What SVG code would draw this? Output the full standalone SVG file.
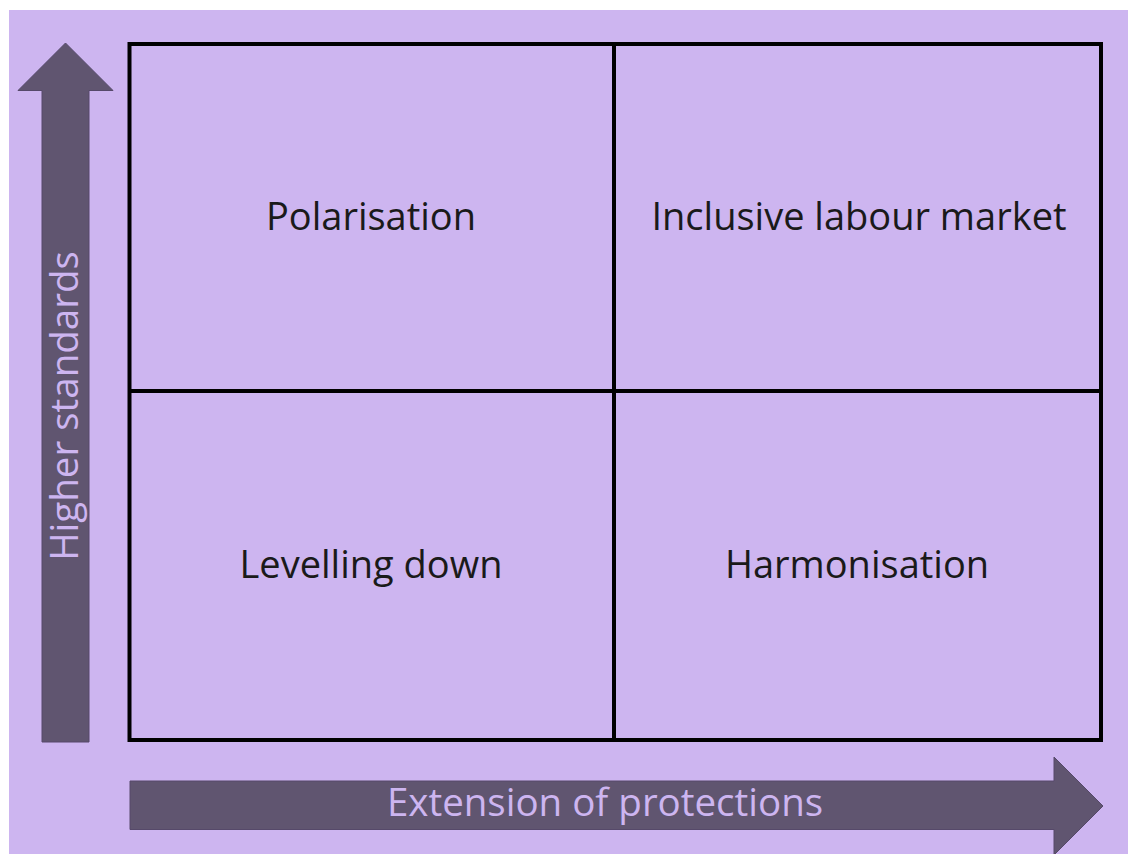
<svg xmlns="http://www.w3.org/2000/svg" width="1128" height="854" viewBox="0 0 1128 854">
<style>
.lbl{font-family:"Open Sans","Liberation Sans",sans-serif;font-size:38px;fill:#1a1a1a;text-anchor:middle}
.axl{font-family:"Open Sans","Liberation Sans",sans-serif;font-size:38.5px;fill:#cdb5f0;text-anchor:middle}
.arrow{fill:#605570;stroke:#56496a;stroke-width:1}
.cell{fill:none;stroke:#000;stroke-width:4}
</style>
<rect x="0" y="0" width="1128" height="854" fill="#ffffff"/>
<rect x="9" y="10" width="1119" height="844" fill="#cdb5f0"/>
<g id="axis-y">
<polygon class="arrow" points="42,742 42,90.5 18,90.5 65.5,43 113,90.5 89,90.5 89,742"/>
<text class="axl" transform="translate(78,406) rotate(-90)">Higher standards</text>
</g>
<g id="axis-x">
<polygon class="arrow" points="130,781 1054,781 1054,757 1103,806 1054,855 1054,829.5 130,829.5"/>
<text class="axl" x="605" y="816">Extension of protections</text>
</g>
<g id="connectors">
<rect class="cell" x="129.5" y="44" width="971.5" height="696"/>
<line class="cell" x1="614" y1="44" x2="614" y2="740"/>
<line class="cell" x1="129.5" y1="391" x2="1101" y2="391"/>
</g>
<g id="polarisation"><text class="lbl" x="371" y="230">Polarisation</text></g>
<g id="inclusive"><text class="lbl" x="859" y="230">Inclusive labour market</text></g>
<g id="levelling"><text class="lbl" x="371" y="578">Levelling down</text></g>
<g id="harmonisation"><text class="lbl" x="857" y="578">Harmonisation</text></g>
</svg>
